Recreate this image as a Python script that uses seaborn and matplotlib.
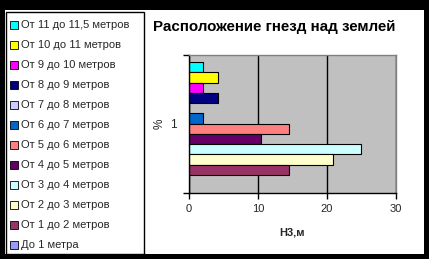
import matplotlib
matplotlib.use('Agg')
import matplotlib.pyplot as plt
import seaborn as sns
import pandas as pd
from matplotlib.patches import Rectangle, Patch

series = ["До 1 метра", "От 1 до 2 метров", "От 2 до 3 метров", "От 3 до 4 метров",
          "От 4 до 5 метров", "От 5 до 6 метров", "От 6 до 7 метров", "От 7 до 8 метров",
          "От 8 до 9 метров", "От 9 до 10 метров", "От 10 до 11 метров", "От 11 до 11,5 метров"]
values = [0, 14.58, 20.83, 25.0, 10.42, 14.58, 2.08, 0, 4.17, 2.08, 4.17, 2.08]
colors = ["#9999FF", "#993366", "#FFFFCC", "#CCFFFF", "#660066", "#FF8080",
          "#0066CC", "#CCCCFF", "#000080", "#FF00FF", "#FFFF00", "#00FFFF"]
category = ["1"]
x_ticks = [0, 10, 20, 30]

sns.set_theme(style="white")
plt.rcParams['font.family'] = ['Liberation Sans', 'DejaVu Sans']

W, H = 429, 259
fig = plt.figure(figsize=(W / 100, H / 100), dpi=100, facecolor='black')
fig.patches.append(Rectangle((5 / W, 5 / H), 419 / W, 244 / H, transform=fig.transFigure,
                             facecolor='white', edgecolor='none', zorder=-5))
fig.patches.append(Rectangle((5.5 / W, 5 / H), 138.5 / W, 242 / H, transform=fig.transFigure,
                             facecolor='none', edgecolor='black', lw=1, zorder=-4))

ax = fig.add_axes([188.7 / W, 1 - 192.7 / H, (396 - 188.7) / W, (192.7 - 54.5) / H])

df = pd.DataFrame({'cat': category * len(series), 'series': series, 'value': values})
sns.barplot(data=df, x='value', y='cat', hue='series', hue_order=series[::-1],
            palette=dict(zip(series, colors)), orient='h', width=0.89, gap=0,
            edgecolor='black', linewidth=0.8, saturation=1, errorbar=None,
            legend=False, ax=ax)

ax.set_facecolor('#C0C0C0')
ax.set_xlim(0, 30)
ax.set_xticks(x_ticks)
ax.set_xticklabels([str(t) for t in x_ticks], fontsize=8)
ax.set_ylim(0.5, -0.5)
ax.set_yticks([-0.5, 0.5])
ax.set_yticklabels(['', ''])
ax.set_yticks([0], minor=True)
ax.set_yticklabels(category, minor=True, fontsize=8.5)
ax.tick_params(axis='y', which='major', length=4, width=1, color='black', direction='out', left=True)
ax.tick_params(axis='y', which='minor', length=0, pad=8.5)
ax.tick_params(axis='x', which='major', length=4, width=1, color='black', direction='out', bottom=True, pad=4)
ax.xaxis.grid(True, color='black', lw=1)
ax.yaxis.grid(False)
ax.set_axisbelow(True)
for s in ['left', 'bottom']:
    ax.spines[s].set_color('black')
    ax.spines[s].set_linewidth(1)
for s in ['top', 'right']:
    ax.spines[s].set_color('#808080')
    ax.spines[s].set_linewidth(1)

ax.set_xlabel('Н3,м', fontsize=8, fontweight='bold', labelpad=10)
ax.set_ylabel('%', fontsize=8.5, labelpad=3)

fig.text(274 / W, 1 - 27 / H, 'Расположение гнезд над землей', ha='center', va='center',
         fontsize=10.9, fontweight='bold', color='black')

handles = [Patch(facecolor=c, edgecolor='black', lw=0.6) for c in colors[::-1]]
fig.legend(handles=handles, labels=series[::-1], loc='upper left',
           bbox_to_anchor=(10 / W, 1 - 20.5 / H), frameon=False, fontsize=8,
           handlelength=0.7, handleheight=0.7, handletextpad=0.3,
           labelspacing=0.9, borderaxespad=0, borderpad=0)

fig.savefig('out.png', dpi=100, facecolor='black')
